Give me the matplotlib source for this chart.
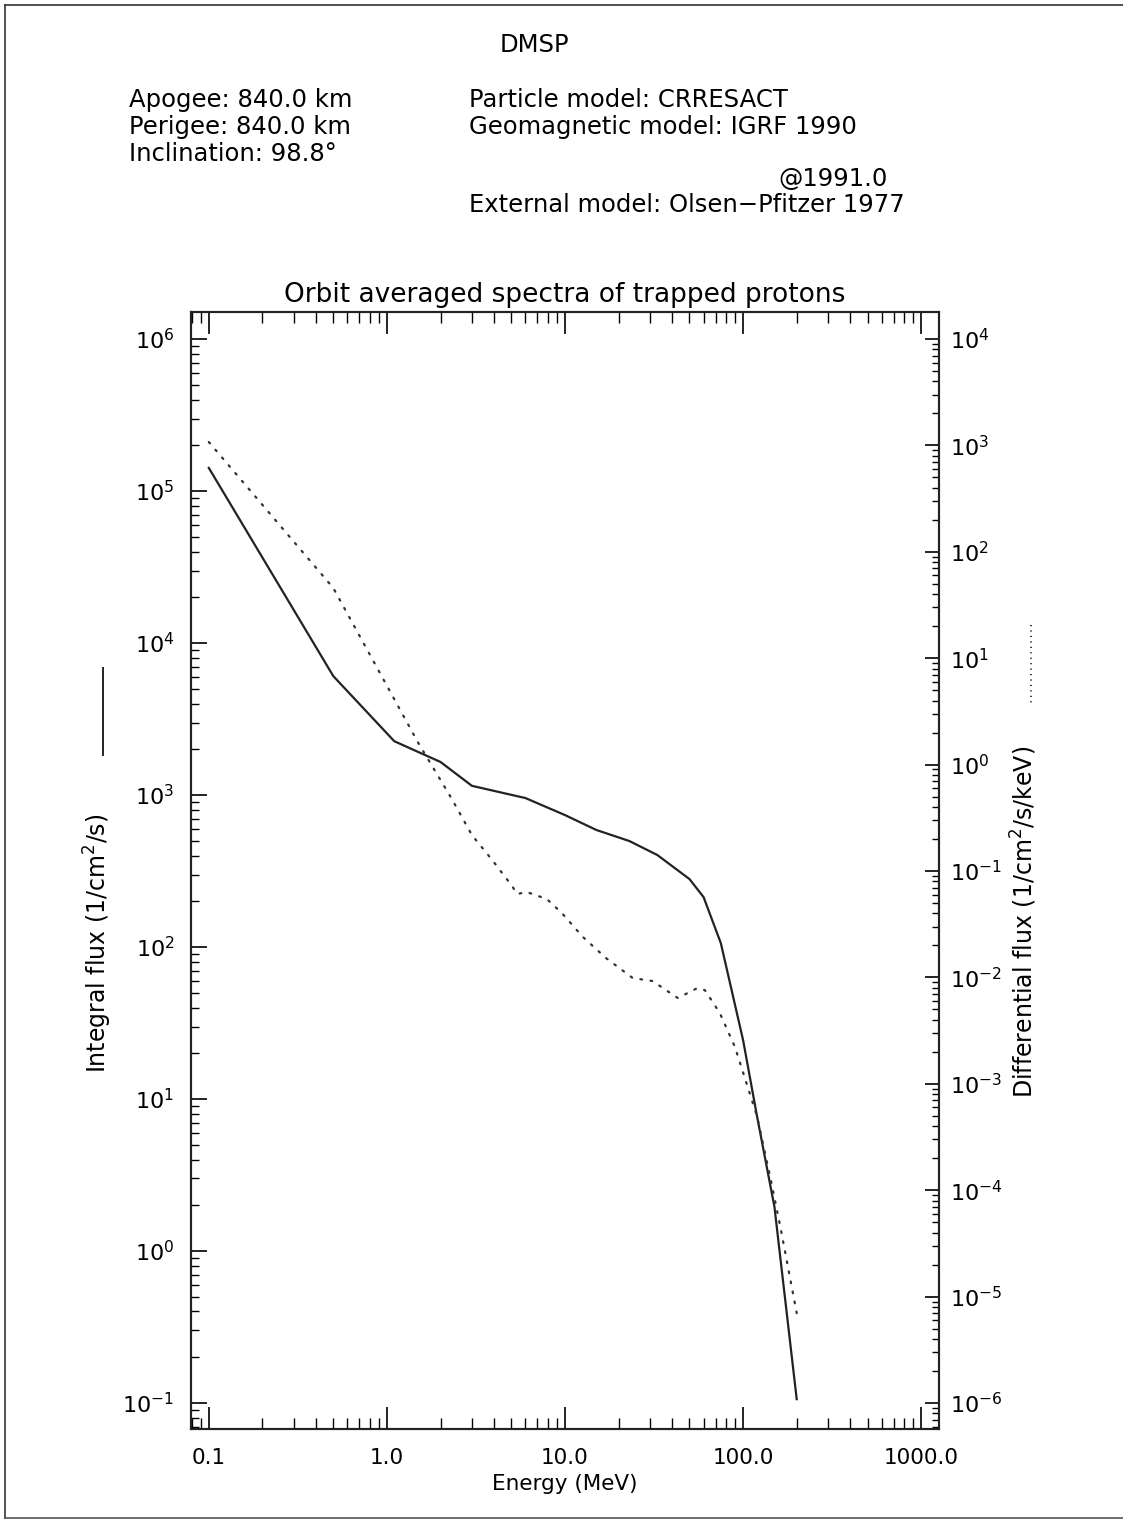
import numpy as np
import matplotlib
matplotlib.use('Agg')
import matplotlib.pyplot as plt
from matplotlib.lines import Line2D
from matplotlib.ticker import LogLocator, NullFormatter, FixedLocator, FixedFormatter

# integral flux (solid, left axis)
energy_int = [0.1, 0.5, 1.1, 2.0, 3.0, 6.0, 10, 15, 23, 33, 50, 60, 75, 100, 120, 150, 200]
flux_int = [1.42e5, 6.06e3, 2.26e3, 1.65e3, 1.15e3, 955, 738, 589, 498, 403, 280, 213,
            106, 24.4, 7.6, 1.95, 0.106]

# differential flux (dotted, right axis)
energy_diff = [0.1, 0.5, 1.5, 2.3, 3.0, 3.9, 5.0, 5.4, 6.1, 7.9, 9.6, 12.6, 17, 24, 31,
               43, 55, 61, 74, 90, 120, 142, 162, 200]
flux_diff = [1077, 45.7, 1.60, 0.485, 0.218, 0.127, 0.0738, 0.0608, 0.0635, 0.0546,
             0.0403, 0.024, 0.0152, 0.00987, 0.00925, 0.0064, 0.0079, 0.0076, 0.00463,
             0.00222, 4.9e-4, 1.33e-4, 4.5e-5, 7.0e-6]

xticks = [0.1, 1, 10, 100, 1000]
xticklabels = ['0.1', '1.0', '10.0', '100.0', '1000.0']
left_exp = list(range(-1, 7))
right_exp = list(range(-6, 5))

W, H = 1123, 1523
fig = plt.figure(figsize=(W / 100, H / 100), dpi=100)

def fx(px):
    return px / W

def fy(py):
    return 1 - py / H

ax = fig.add_axes([fx(191), fy(1429), fx(939) - fx(191), fy(312) - fy(1429)])
ax.set_xscale('log')
ax.set_yscale('log')
ax.set_xlim(10 ** -1.1, 10 ** 3.1)
ax.set_ylim(10 ** -1.171, 10 ** 6.178)

ax.plot(energy_int, flux_int, color='#222222', lw=1.6, solid_joinstyle='round')

ax2 = ax.twinx()
ax2.set_yscale('log')
ax2.set_ylim(10 ** -6.244, 10 ** 4.254)
ax2.plot(energy_diff, flux_diff, color='#333333', lw=1.6, linestyle=(0, (0.8, 3.8)),
         dash_capstyle='round')

for a in (ax, ax2):
    for s in a.spines.values():
        s.set_linewidth(1.5)
        s.set_color('#222222')

ax.xaxis.set_major_locator(FixedLocator(xticks))
ax.xaxis.set_major_formatter(FixedFormatter(xticklabels))
ax.xaxis.set_minor_locator(LogLocator(base=10, subs=np.arange(2, 10), numticks=20))
ax.xaxis.set_minor_formatter(NullFormatter())

ax.yaxis.set_major_locator(FixedLocator([10.0 ** e for e in left_exp]))
ax.yaxis.set_major_formatter(FixedFormatter([r'$10^{%d}$' % e for e in left_exp]))
ax.yaxis.set_minor_locator(LogLocator(base=10, subs=np.arange(2, 10), numticks=30))
ax.yaxis.set_minor_formatter(NullFormatter())

ax2.yaxis.set_major_locator(FixedLocator([10.0 ** e for e in right_exp]))
ax2.yaxis.set_major_formatter(FixedFormatter([r'$10^{%d}$' % e for e in right_exp]))
ax2.yaxis.set_minor_locator(LogLocator(base=10, subs=np.arange(2, 10), numticks=30))
ax2.yaxis.set_minor_formatter(NullFormatter())

ax.tick_params(axis='x', which='major', direction='in', top=True, length=16, width=1.2,
               labelsize=15.5, pad=14)
ax.tick_params(axis='x', which='minor', direction='in', top=True, length=8, width=1.0)
ax.tick_params(axis='y', which='major', direction='in', right=False, length=11.5,
               width=1.2, labelsize=16, pad=12)
ax.tick_params(axis='y', which='minor', direction='in', right=False, length=5.8, width=1.0)
ax2.tick_params(axis='y', which='major', direction='in', length=10, width=1.2,
                labelsize=16, pad=8)
ax2.tick_params(axis='y', which='minor', direction='in', length=5, width=1.0)

ax.set_title('Orbit averaged spectra of trapped protons', fontsize=19, pad=7)
fig.text(fx(565), fy(1484), 'Energy (MeV)', fontsize=15.5, ha='center', va='center')
fig.text(fx(98), fy(943), 'Integral flux (1/cm$^2$/s)', fontsize=17, rotation=90,
         ha='center', va='center')
fig.text(fx(1024), fy(922), 'Differential flux (1/cm$^2$/s/keV)', fontsize=17,
         rotation=90, ha='center', va='center')

# line-style keys beside the axis titles
fig.add_artist(Line2D([fx(103), fx(103)], [fy(668), fy(755)], color='#222222', lw=1.4))
fig.add_artist(Line2D([fx(1031), fx(1031)], [fy(625), fy(706)], color='#333333', lw=1.4,
                      linestyle=(0, (0.6, 2.2))))

# header block
hs = 17.5
fig.text(fx(534), fy(45), 'DMSP', fontsize=hs, ha='center', va='center')
left_lines = ['Apogee: 840.0 km', 'Perigee: 840.0 km', 'Inclination: 98.8\u00b0']
right_lines = ['Particle model: CRRESACT', 'Geomagnetic model: IGRF 1990']
rows = [100, 127, 154]
for txt, r in zip(left_lines, rows):
    fig.text(fx(129), fy(r), txt, fontsize=hs, ha='left', va='center')
for txt, r in zip(right_lines, rows):
    fig.text(fx(469), fy(r), txt, fontsize=hs, ha='left', va='center')
fig.text(fx(888), fy(179), '@1991.0', fontsize=hs, ha='right', va='center')
fig.text(fx(469), fy(205), 'External model: Olsen\u2212Pfitzer 1977', fontsize=hs,
         ha='left', va='center')

# page frame
fig.add_artist(Line2D([fx(5), fx(1123)], [fy(5), fy(5)], color='#333333', lw=1.2))
fig.add_artist(Line2D([fx(5), fx(5)], [fy(5), fy(1518)], color='#333333', lw=1.2))
fig.add_artist(Line2D([fx(5), fx(1123)], [fy(1518), fy(1518)], color='#555555', lw=1.2))

fig.savefig('out.png', dpi=100)
